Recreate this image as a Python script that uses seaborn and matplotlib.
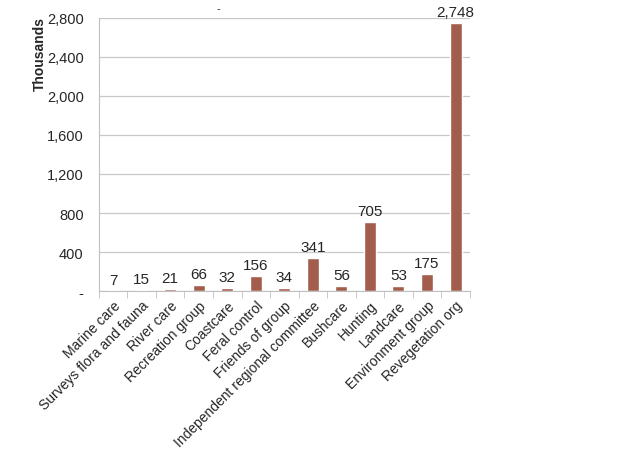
import matplotlib
matplotlib.use('Agg')
import matplotlib.pyplot as plt
import matplotlib.ticker as ticker
import seaborn as sns
import pandas as pd

categories = ['Marine care', 'Surveys flora and fauna', 'River care',
              'Recreation group', 'Coastcare', 'Feral control',
              'Friends of group', 'Independent regional committee',
              'Bushcare', 'Hunting', 'Landcare', 'Environment group',
              'Revegetation org']
values = [7, 15, 21, 66, 32, 156, 34, 341, 56, 705, 53, 175, 2748]
yticks = list(range(0, 2801, 400))

sns.set_style('white')
plt.rcParams['font.family'] = ['Liberation Sans', 'DejaVu Sans']

df = pd.DataFrame({'cat': categories, 'val': values})

fig = plt.figure(figsize=(6.34, 4.60), dpi=100)
ax = fig.add_axes([0.156, 0.365, 0.585, 0.594])

sns.barplot(data=df, x='cat', y='val', color='#A35D4C', width=0.42,
            saturation=1, ax=ax)

ax.set_ylim(0, 2800)
ax.set_yticks(yticks)
ax.yaxis.set_major_formatter(ticker.FuncFormatter(
    lambda v, p: '-' if v == 0 else '{:,.0f}'.format(v)))
ax.yaxis.grid(True, color='#C8C8C8', linewidth=0.9)
ax.set_axisbelow(True)
ax.set_xlim(-0.5, len(categories) - 0.5)

for s in ['top', 'right']:
    ax.spines[s].set_visible(False)
for s in ['left', 'bottom']:
    ax.spines[s].set_color('#C0C0C0')

ax.tick_params(axis='y', length=0, labelsize=10.5, pad=11)
ax.set_xticks([i - 0.5 for i in range(len(categories) + 1)], minor=True)
ax.tick_params(axis='x', which='minor', length=5, color='#C0C0C0',
               direction='out', bottom=True)
ax.tick_params(axis='x', which='major', length=0, labelsize=10, pad=5)
ax.set_xticklabels(categories, rotation=45, ha='right',
                   rotation_mode='anchor')

ax.set_xlabel('')
ax.set_ylabel('Thousands', fontsize=10, fontweight='bold')
ax.yaxis.set_label_coords(-0.14, 0.87)

for i, v in enumerate(values):
    ax.text(i, v + 40, '{:,}'.format(v), ha='center', va='bottom',
            fontsize=11)

fig.text(0.344, 0.99, '-', ha='center', va='top', fontsize=8)

fig.savefig('out.png', dpi=100)
